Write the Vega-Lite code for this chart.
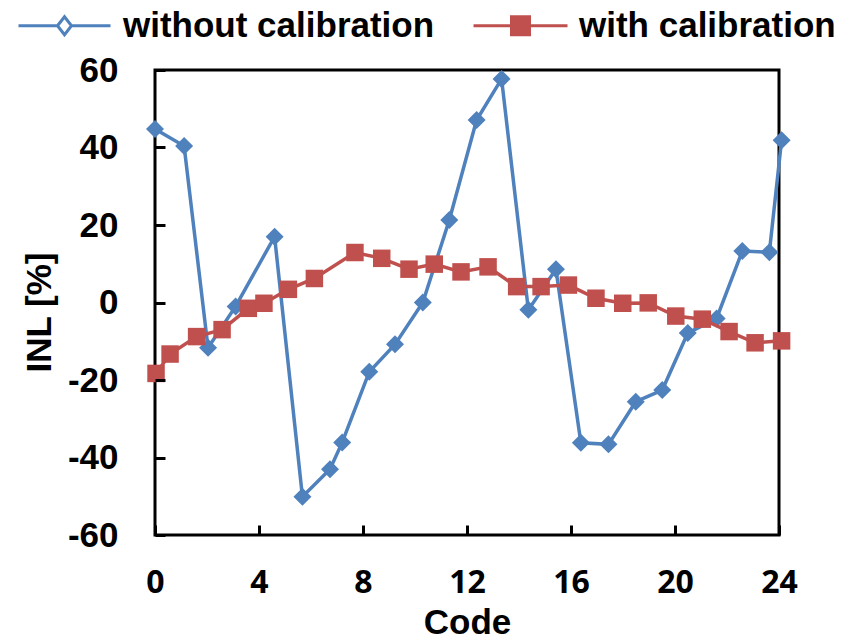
{
  "$schema": "https://vega.github.io/schema/vega-lite/v6.json",
  "autosize": {"type": "none"},
  "padding": {"left": 155, "top": 70, "right": 84, "bottom": 108},
  "width": 624,
  "height": 465,
  "background": "white",
  "config": {
    "view": {"stroke": "black", "strokeWidth": 3},
    "axis": {"labelColor": "black", "titleColor": "black"}
  },
  "data": {"values": [
    {"series": "without calibration", "code": 0, "inl": 44.8},
    {"series": "without calibration", "code": 1.12, "inl": 40.4},
    {"series": "without calibration", "code": 2.04, "inl": -11.7},
    {"series": "without calibration", "code": 3.1, "inl": -1.0},
    {"series": "without calibration", "code": 4.6, "inl": 17.0},
    {"series": "without calibration", "code": 5.67, "inl": -50.1},
    {"series": "without calibration", "code": 6.73, "inl": -43.0},
    {"series": "without calibration", "code": 7.2, "inl": -36.1},
    {"series": "without calibration", "code": 8.24, "inl": -17.9},
    {"series": "without calibration", "code": 9.23, "inl": -10.8},
    {"series": "without calibration", "code": 10.3, "inl": 0.0},
    {"series": "without calibration", "code": 11.32, "inl": 21.3},
    {"series": "without calibration", "code": 12.37, "inl": 47.1},
    {"series": "without calibration", "code": 13.33, "inl": 57.7},
    {"series": "without calibration", "code": 14.36, "inl": -1.9},
    {"series": "without calibration", "code": 15.42, "inl": 8.6},
    {"series": "without calibration", "code": 16.38, "inl": -36.2},
    {"series": "without calibration", "code": 17.44, "inl": -36.6},
    {"series": "without calibration", "code": 18.49, "inl": -25.6},
    {"series": "without calibration", "code": 19.51, "inl": -22.6},
    {"series": "without calibration", "code": 20.49, "inl": -7.9},
    {"series": "without calibration", "code": 21.6, "inl": -4.1},
    {"series": "without calibration", "code": 22.59, "inl": 13.3},
    {"series": "without calibration", "code": 23.63, "inl": 13.0},
    {"series": "without calibration", "code": 24.1, "inl": 41.9},
    {"series": "with calibration", "code": 0.04, "inl": -18.3},
    {"series": "with calibration", "code": 0.58, "inl": -13.3},
    {"series": "with calibration", "code": 1.6, "inl": -8.8},
    {"series": "with calibration", "code": 2.58, "inl": -7.0},
    {"series": "with calibration", "code": 3.59, "inl": -1.5},
    {"series": "with calibration", "code": 4.19, "inl": -0.2},
    {"series": "with calibration", "code": 5.13, "inl": 3.4},
    {"series": "with calibration", "code": 6.13, "inl": 6.2},
    {"series": "with calibration", "code": 7.69, "inl": 12.9},
    {"series": "with calibration", "code": 8.72, "inl": 11.4},
    {"series": "with calibration", "code": 9.77, "inl": 8.6},
    {"series": "with calibration", "code": 10.74, "inl": 9.9},
    {"series": "with calibration", "code": 11.77, "inl": 7.9},
    {"series": "with calibration", "code": 12.81, "inl": 9.2},
    {"series": "with calibration", "code": 13.91, "inl": 4.1},
    {"series": "with calibration", "code": 14.85, "inl": 4.1},
    {"series": "with calibration", "code": 15.9, "inl": 4.5},
    {"series": "with calibration", "code": 16.96, "inl": 1.1},
    {"series": "with calibration", "code": 17.99, "inl": -0.2},
    {"series": "with calibration", "code": 18.97, "inl": -0.1},
    {"series": "with calibration", "code": 20.03, "inl": -3.5},
    {"series": "with calibration", "code": 21.05, "inl": -4.3},
    {"series": "with calibration", "code": 22.08, "inl": -7.5},
    {"series": "with calibration", "code": 23.08, "inl": -10.4},
    {"series": "with calibration", "code": 24.1, "inl": -9.9}
  ]},
  "encoding": {
    "x": {"field": "code", "type": "quantitative",
      "scale": {"domain": [0, 24], "nice": false, "zero": false},
      "axis": {"values": [0, 4, 8, 12, 16, 20, 24], "title": "Code", "grid": false, "domain": false, "zindex": 2, "offset": -10, "ticks": true, "tickSize": 10, "tickWidth": 3, "tickColor": "#000000", "tickOpacity": 1,
        "labelFont": "Open Sans", "labelFontWeight": "bold", "labelFontSize": 32, "labelPadding": 32, "labelFlush": false,
        "titleFont": "Liberation Sans", "titleFontWeight": "bold", "titleFontSize": 35, "titleBaseline": "alphabetic", "titleY": 108}},
    "y": {"field": "inl", "type": "quantitative",
      "scale": {"domain": [-60, 60], "nice": false},
      "axis": {"values": [-60, -40, -20, 0, 20, 40, 60], "title": "INL [%]", "grid": false, "domain": false, "zindex": 2, "offset": -10, "ticks": true, "tickSize": 10, "tickWidth": 3, "tickColor": "#000000", "tickOpacity": 1,
        "labelExpr": "datum.value < 0 ? '-' + abs(datum.value) : '' + datum.value",
        "labelFont": "Liberation Sans", "labelFontWeight": "bold", "labelFontSize": 35, "labelPadding": 37,
        "titleFont": "Liberation Sans", "titleFontWeight": "bold", "titleFontSize": 35, "titleBaseline": "alphabetic", "titleAngle": -90, "titleAlign": "center", "titleX": -115, "titleY": 242}},
    "color": {"field": "series", "type": "nominal",
      "scale": {"domain": ["without calibration", "with calibration"], "range": ["#4F81BD", "#C0504D"]}}
  },
  "layer": [
    {"transform": [{"filter": "datum.series === 'without calibration'"}],
     "mark": {"type": "line", "strokeWidth": 3.5, "clip": false},
     "encoding": {"color": {"field": "series", "type": "nominal",
        "legend": {"orient": "none", "legendX": -108, "legendY": -62, "direction": "horizontal", "title": null,
          "labelFont": "Liberation Sans", "labelFontWeight": "bold", "labelFontSize": 35, "labelColor": "black", "labelLimit": 0,
          "symbolSize": 400, "symbolStrokeWidth": 3, "labelOffset": 41, "columnPadding": 32,
          "encode": {"symbols": {
            "update": {
            "shape": {"signal": "datum.value === 'without calibration' ? 'M-4.6,0H-0.7M0.7,0H4.6M-0.7,0L0,-0.9L0.7,0L0,0.9Z' : 'M-4.7,0H4.7M-0.9,-0.9H0.9V0.9H-0.9Z'"},
            "fill": {"signal": "datum.value === 'without calibration' ? 'white' : '#C0504D'"},
            "fillOpacity": {"signal": "datum.value === 'without calibration' ? 0 : 1"},
            "stroke": {"signal": "datum.value === 'without calibration' ? '#4F81BD' : '#C0504D'"},
            "strokeWidth": {"value": 3},
            "opacity": {"value": 1}
          }}}}}}},
    {"transform": [{"filter": "datum.series === 'without calibration'"}],
     "mark": {"type": "point", "shape": "diamond", "filled": true, "size": 324, "opacity": 1, "clip": false}},
    {"transform": [{"filter": "datum.series === 'with calibration'"}],
     "mark": {"type": "line", "strokeWidth": 3.5, "clip": false}},
    {"transform": [{"filter": "datum.series === 'with calibration'"}],
     "mark": {"type": "point", "shape": "square", "filled": true, "size": 306, "opacity": 1, "clip": false}}
  ]
}
